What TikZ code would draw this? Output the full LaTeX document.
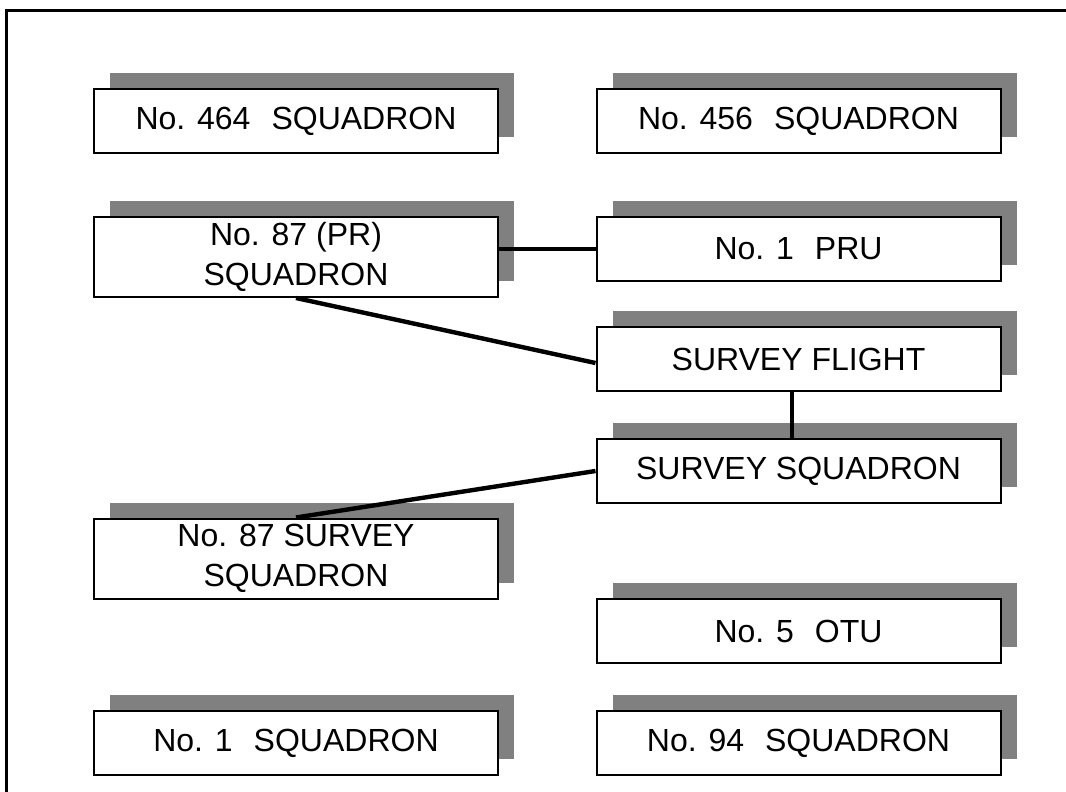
\documentclass[tikz,border=0pt]{standalone}
\usepackage{fontspec}
\setmainfont{Liberation Sans}
\usetikzlibrary{shadows}
\definecolor{shadowgray}{RGB}{128,128,128}
\tikzset{
  unitbox/.style={draw=black, line width=2pt, fill=white, minimum width=404pt,
    minimum height=64pt, inner sep=0pt, align=center,
    font=\fontsize{32}{40}\selectfont,
    drop shadow={shadow xshift=16pt, shadow yshift=16pt, fill=shadowgray, opacity=1}},
  tallbox/.style={unitbox, minimum height=80pt},
  conn/.style={line width=4.4pt, black},
  frameline/.style={line width=3pt, black}
}
\begin{document}
\begin{tikzpicture}[x=1pt, y=-1pt]
\useasboundingbox (0,0) rectangle (1066,792);
\coordinate (fbl) at (6.5,792);
\coordinate (ftl) at (6.5,10.5);
\coordinate (ftr) at (1066,10.5);
\draw[frameline] (fbl) -- (ftl) -- (ftr);

\node[unitbox] (s464) at (296,121) {No. 464\hspace{21pt}SQUADRON};
\node[unitbox] (s456) at (798.5,121) {No. 456\hspace{21pt}SQUADRON};
\node[tallbox] (pr87) at (296,257) {No. 87 (PR)\\SQUADRON};
\node[unitbox] (pru) at (798.5,249) {No. 1\hspace{21pt}PRU};
\node[unitbox] (sf) at (798.5,359) {SURVEY FLIGHT};
\node[unitbox] (ss) at (798.5,471) {SURVEY SQUADRON};
\node[tallbox] (s87) at (296,558.5) {No. 87 SURVEY\\SQUADRON};
\node[unitbox] (otu) at (798.5,631) {No. 5\hspace{21pt}OTU};
\node[unitbox] (s1) at (296,743) {No. 1\hspace{21pt}SQUADRON};
\node[unitbox] (s94) at (798.5,743) {No. 94\hspace{21pt}SQUADRON};

\draw[conn] (pru.west) -- (pru.west -| pr87.east);
\draw[conn] (pr87.south) -- ([yshift=-4pt]sf.west);
\draw[conn] ([xshift=-6.5pt]sf.south) -- ([xshift=-6.5pt]ss.north);
\draw[conn] (ss.west) -- (s87.north);
\end{tikzpicture}
\end{document}
